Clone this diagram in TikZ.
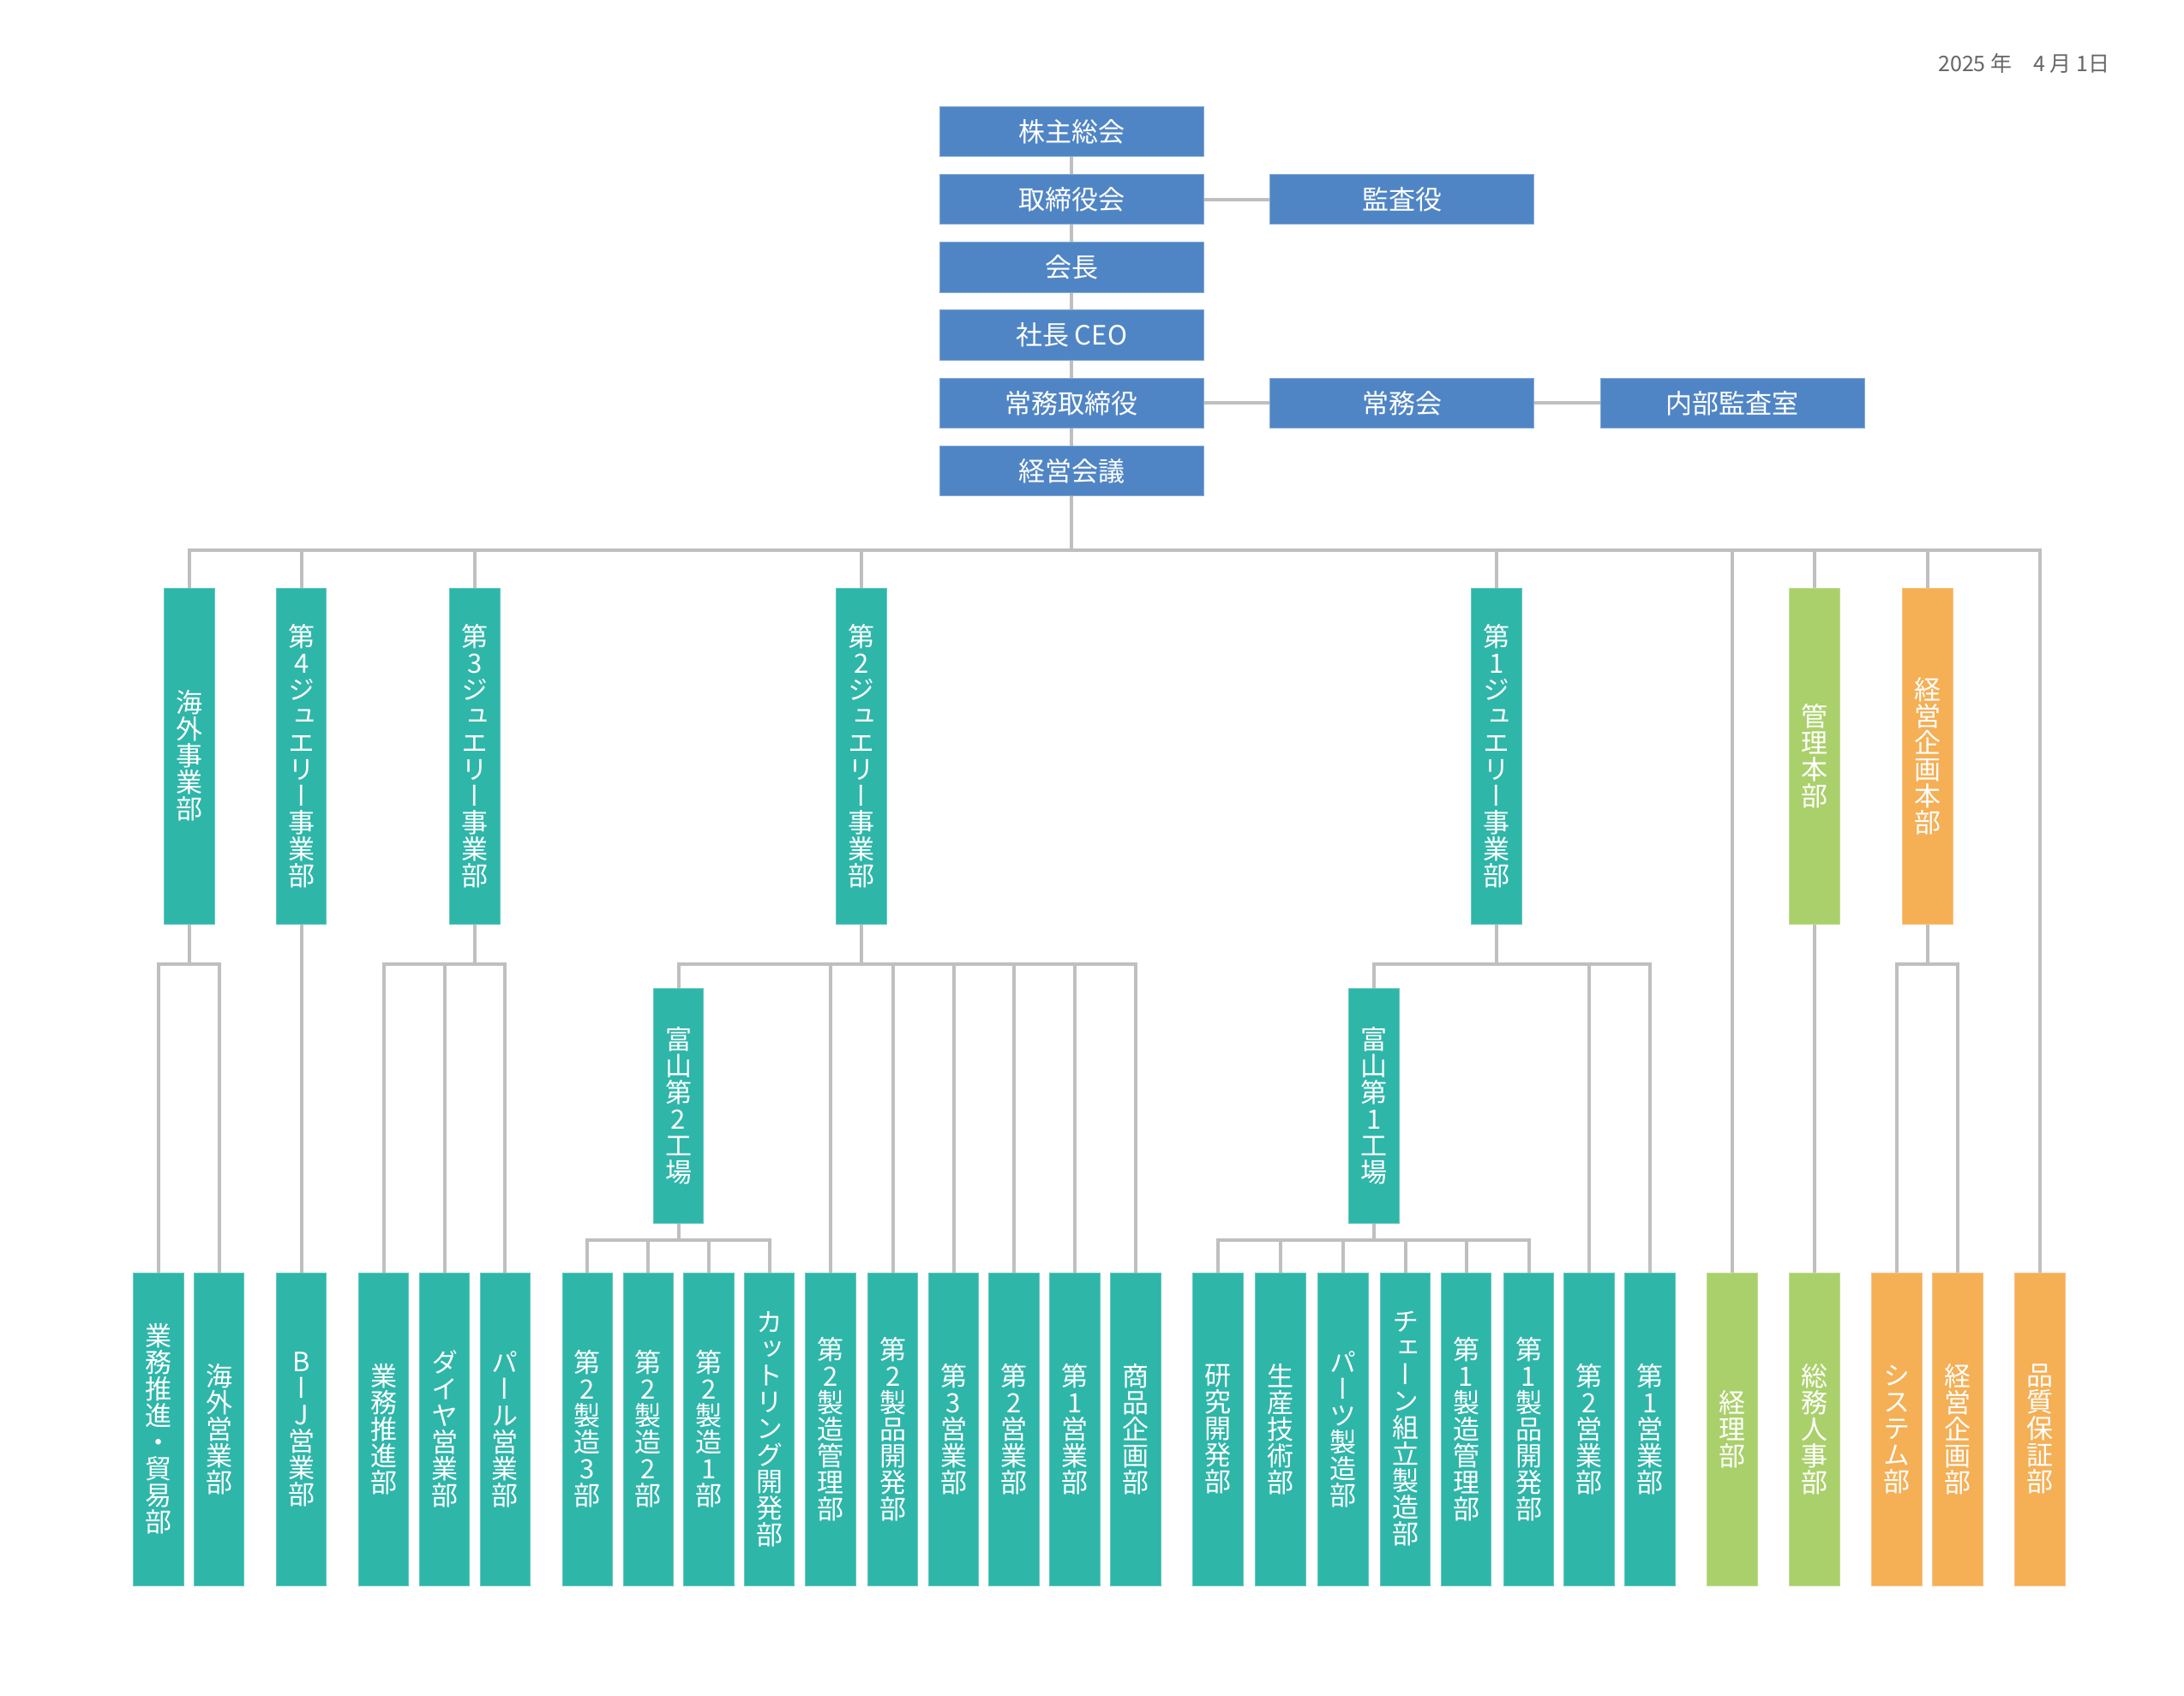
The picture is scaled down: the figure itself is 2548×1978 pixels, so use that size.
\documentclass[tikz,border=0pt]{standalone}
\usepackage{fontspec}
\newfontfamily\jp{Noto Sans CJK JP}
\newfontfamily\vjp[RawFeature=+vert]{Noto Sans CJK JP}
\definecolor{cblue}{HTML}{5085C5}
\definecolor{cteal}{HTML}{2EB6A9}
\definecolor{cgreen}{HTML}{AAD06B}
\definecolor{corange}{HTML}{F5AF55}
\definecolor{cline}{HTML}{BFBFBF}
\definecolor{cgray}{HTML}{666666}
\begin{document}
\begin{tikzpicture}[x=0.3pt,y=-0.3pt,
  topbox/.style={rectangle, fill=cblue, draw=cblue!70!white, line width=0.3pt, text=white,
    minimum width=92.4pt, minimum height=17.55pt, inner sep=0pt,
    font=\jp\fontsize{9.3}{11}\selectfont},
  vbox/.style={rectangle, fill=#1, draw=#1!75!white, line width=0.3pt, text=white,
    minimum width=17.5pt, inner sep=0pt, align=center,
    font=\vjp\fontsize{9.3}{9.3}\selectfont},
  botbox/.style={vbox=#1, minimum height=109.5pt},
  lvbox/.style={vbox=#1, minimum height=117.6pt},
  facbox/.style={vbox=#1, minimum height=82.2pt},
  conn/.style={draw=cline, line width=1.2pt, line join=miter}]
\useasboundingbox (0,0) rectangle (2548,1978);
\fill[white] (0,0) rectangle (2548,1978);

% date
\node[anchor=base east, text=cgray, inner sep=0pt, font=\jp\fontsize{7.5}{9}\selectfont] (date) at (2462,83) {2025 年　4 月 1日};

% top column
\node[topbox] (kabu)   at (1250,153.5) {株主総会};
\node[topbox] (tori)   at (1250,232.7) {取締役会};
\node[topbox] (kaicho) at (1250,311.9) {会長};
\node[topbox] (shacho) at (1250,391.1) {社長 CEO};
\node[topbox] (jomu)   at (1250,470.3) {常務取締役};
\node[topbox] (keiei)  at (1250,549.5) {経営会議};
\node[topbox] (kansa)  at (1635.5,232.7) {監査役};
\node[topbox] (jomukai) at (1635.5,470.3) {常務会};
\node[topbox] (naibu)  at (2021,470.3) {内部監査室};

% level 2
\node[lvbox=cteal] (kaigai) at (221,882) {海\\外\\事\\業\\部};
\node[lvbox=cteal] (j4) at (351.8,882) {第\\4\\ジ\\ュ\\エ\\リ\\ー\\事\\業\\部};
\node[lvbox=cteal] (j3) at (554,882) {第\\3\\ジ\\ュ\\エ\\リ\\ー\\事\\業\\部};
\node[lvbox=cteal] (j2) at (1005,882) {第\\2\\ジ\\ュ\\エ\\リ\\ー\\事\\業\\部};
\node[lvbox=cteal] (j1) at (1746,882) {第\\1\\ジ\\ュ\\エ\\リ\\ー\\事\\業\\部};
\node[lvbox=cgreen] (kanri) at (2117,882) {管\\理\\本\\部};
\node[lvbox=corange] (kikaku) at (2249,882) {経\\営\\企\\画\\本\\部};

% factories
\node[facbox=cteal] (f2) at (791.5,1290) {富\\山\\第\\2\\工\\場};
\node[facbox=cteal] (f1) at (1603,1290) {富\\山\\第\\1\\工\\場};

% bottom row
\node[botbox=cteal] (b01) at (185,1667.5) {業\\務\\推\\進\\・\\貿\\易\\部};
\node[botbox=cteal] (b02) at (255.8,1667.5) {海\\外\\営\\業\\部};
\node[botbox=cteal] (b03) at (351.8,1667.5) {B\\ー\\J\\営\\業\\部};
\node[botbox=cteal] (b04) at (447.6,1667.5) {業\\務\\推\\進\\部};
\node[botbox=cteal] (b05) at (518.7,1667.5) {ダ\\イ\\ヤ\\営\\業\\部};
\node[botbox=cteal] (b06) at (589.3,1667.5) {パ\\ー\\ル\\営\\業\\部};
\node[botbox=cteal] (b07) at (685.4,1667.5) {第\\2\\製\\造\\3\\部};
\node[botbox=cteal] (b08) at (756.2,1667.5) {第\\2\\製\\造\\2\\部};
\node[botbox=cteal] (b09) at (827,1667.5) {第\\2\\製\\造\\1\\部};
\node[botbox=cteal] (b10) at (897.8,1667.5) {カ\\ッ\\ト\\リ\\ン\\グ\\開\\発\\部};
\node[botbox=cteal] (b11) at (969,1667.5) {第\\2\\製\\造\\管\\理\\部};
\node[botbox=cteal] (b12) at (1041.7,1667.5) {第\\2\\製\\品\\開\\発\\部};
\node[botbox=cteal] (b13) at (1112.5,1667.5) {第\\3\\営\\業\\部};
\node[botbox=cteal] (b14) at (1183,1667.5) {第\\2\\営\\業\\部};
\node[botbox=cteal] (b15) at (1254,1667.5) {第\\1\\営\\業\\部};
\node[botbox=cteal] (b16) at (1325,1667.5) {商\\品\\企\\画\\部};
\node[botbox=cteal] (b17) at (1421,1667.5) {研\\究\\開\\発\\部};
\node[botbox=cteal] (b18) at (1494,1667.5) {生\\産\\技\\術\\部};
\node[botbox=cteal] (b19) at (1567,1667.5) {パ\\ー\\ツ\\製\\造\\部};
\node[botbox=cteal] (b20) at (1639.5,1667.5) {チ\\ェ\\ー\\ン\\組\\立\\製\\造\\部};
\node[botbox=cteal] (b21) at (1710.5,1667.5) {第\\1\\製\\造\\管\\理\\部};
\node[botbox=cteal] (b22) at (1783.5,1667.5) {第\\1\\製\\品\\開\\発\\部};
\node[botbox=cteal] (b23) at (1854,1667.5) {第\\2\\営\\業\\部};
\node[botbox=cteal] (b24) at (1925,1667.5) {第\\1\\営\\業\\部};
\node[botbox=cgreen] (b25) at (2021,1667.5) {経\\理\\部};
\node[botbox=cgreen] (b26) at (2117,1667.5) {総\\務\\人\\事\\部};
\node[botbox=corange] (b27) at (2213,1667.5) {シ\\ス\\テ\\ム\\部};
\node[botbox=corange] (b28) at (2284,1667.5) {経\\営\\企\\画\\部};
\node[botbox=corange] (b29) at (2380,1667.5) {品\\質\\保\\証\\部};

% bus levels
\coordinate (mb) at (0,642);
\coordinate (sb) at (0,1125);
\coordinate (fb) at (0,1446.5);

% top connectors
\draw[conn] (kabu) -- (tori);
\draw[conn] (tori) -- (kaicho);
\draw[conn] (kaicho) -- (shacho);
\draw[conn] (shacho) -- (jomu);
\draw[conn] (jomu) -- (keiei);
\draw[conn] (tori) -- (kansa);
\draw[conn] (jomu) -- (jomukai);
\draw[conn] (jomukai) -- (naibu);

% main bus
\draw[conn] (kaigai.north) -- (kaigai.north |- mb) -- (b29.north |- mb) -- (b29.north);
\draw[conn] (keiei.south) -- (keiei.south |- mb);
\foreach \n in {j4,j3,j2,j1,b25,kanri,kikaku}
  \draw[conn] (\n.north) -- (\n.north |- mb);

% 海外事業部
\draw[conn] (b01.north) -- (b01.north |- sb) -- (b02.north |- sb) -- (b02.north);
\draw[conn] (kaigai.south) -- (kaigai.south |- sb);
% 第4
\draw[conn] (j4.south) -- (b03.north);
% 第3
\draw[conn] (b04.north) -- (b04.north |- sb) -- (b06.north |- sb) -- (b06.north);
\draw[conn] (b05.north) -- (b05.north |- sb);
\draw[conn] (j3.south) -- (j3.south |- sb);
% 第2
\draw[conn] (f2.north) -- (f2.north |- sb) -- (b16.north |- sb) -- (b16.north);
\foreach \n in {b11,b12,b13,b14,b15}
  \draw[conn] (\n.north) -- (\n.north |- sb);
\draw[conn] (j2.south) -- (j2.south |- sb);
\draw[conn] (b07.north) -- (b07.north |- fb) -- (b10.north |- fb) -- (b10.north);
\foreach \n in {b08,b09}
  \draw[conn] (\n.north) -- (\n.north |- fb);
\draw[conn] (f2.south) -- (f2.south |- fb);
% 第1
\draw[conn] (f1.north) -- (f1.north |- sb) -- (b24.north |- sb) -- (b24.north);
\draw[conn] (b23.north) -- (b23.north |- sb);
\draw[conn] (j1.south) -- (j1.south |- sb);
\draw[conn] (b17.north) -- (b17.north |- fb) -- (b22.north |- fb) -- (b22.north);
\foreach \n in {b18,b19,b20,b21}
  \draw[conn] (\n.north) -- (\n.north |- fb);
\draw[conn] (f1.south) -- (f1.south |- fb);
% 管理本部
\draw[conn] (kanri.south) -- (b26.north);
% 経営企画本部
\draw[conn] (b27.north) -- (b27.north |- sb) -- (b28.north |- sb) -- (b28.north);
\draw[conn] (kikaku.south) -- (kikaku.south |- sb);
\end{tikzpicture}
\end{document}
